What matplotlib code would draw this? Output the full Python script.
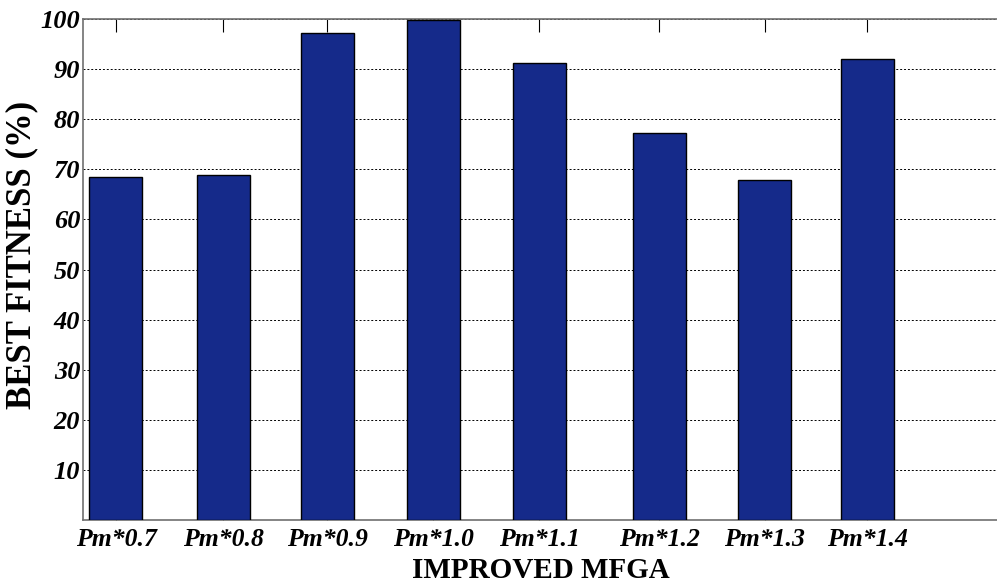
import numpy as np
import matplotlib.pyplot as plt

categories = ['Pm*0.7', 'Pm*0.8', 'Pm*0.9', 'Pm*1.0', 'Pm*1.1', 'Pm*1.2', 'Pm*1.3', 'Pm*1.4']
fitness = [68.5, 68.9, 97.2, 99.8, 91.2, 77.2, 67.9, 92.0]
y_ticks = [10, 20, 30, 40, 50, 60, 70, 80, 90, 100]

# bar centres (the original has a slightly wider gap before Pm*1.2)
pos = [1, 2.01, 2.99, 3.99, 4.99, 6.12, 7.11, 8.08]

plt.rcParams['font.family'] = ['Liberation Serif', 'DejaVu Serif']

fig = plt.figure(figsize=(9.97, 5.86), dpi=100)
ax = fig.add_axes([0.0833, 0.1126, 0.9167, 0.855])

ax.bar(pos, fitness, width=0.5, color='#152a8a', edgecolor='black', linewidth=1.0, zorder=3)

ax.set_xlim(0.69, 9.3)
ax.set_ylim(0, 100)
ax.set_yticks(y_ticks)
ax.set_yticklabels([str(v) for v in y_ticks], fontsize=19, fontweight='bold', style='italic')
ax.set_xticks(pos)
ax.set_xticklabels(categories, fontsize=18.5, fontweight='bold', style='italic')

ax.yaxis.grid(True, linestyle=(0, (2, 2)), color='black', linewidth=0.7, zorder=0)
ax.tick_params(axis='y', length=0, pad=2)
ax.tick_params(axis='x', direction='in', length=9, top=True, bottom=True,
               labelbottom=True, color='black', pad=6)

for s in ['left', 'bottom', 'top']:
    ax.spines[s].set_color('#707070')
    ax.spines[s].set_linewidth(1.2)
ax.spines['right'].set_visible(False)

ax.set_ylabel('BEST FITNESS (%)', fontsize=25, fontweight='bold')
ax.yaxis.set_label_coords(-0.049, 0.53)
ax.set_xlabel('IMPROVED MFGA', fontsize=21, fontweight='bold')
ax.xaxis.set_label_coords(0.501, -0.074)

fig.savefig('out.png', dpi=100)
